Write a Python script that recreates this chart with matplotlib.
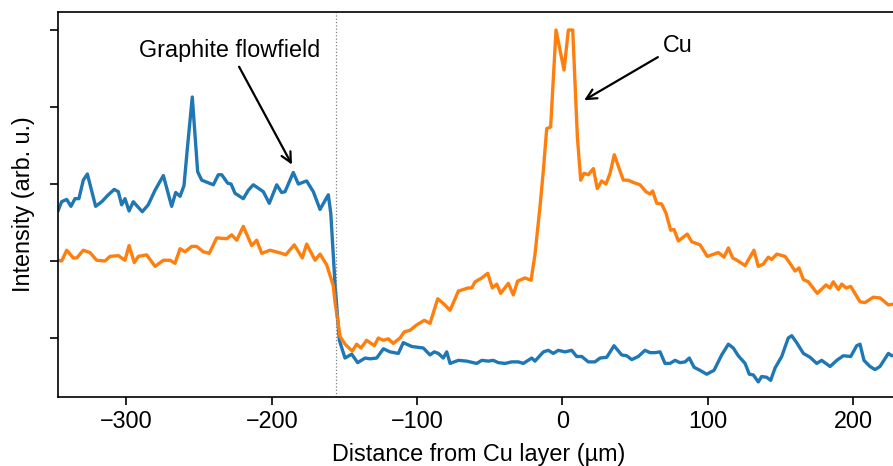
import matplotlib
matplotlib.use('Agg')
import matplotlib.pyplot as plt

plt.rcParams['font.family'] = ['Liberation Sans', 'DejaVu Sans']

# blue trace (graphite signal)
graphite_x = [-346.9, -344.6, -341.1, -338.2, -335.4, -332.7, -329.7, -326.9, -321.2, -317.0,
              -312.5, -308.4, -305.6, -303.3, -301.0, -298.2, -295.3, -289.1, -285.0, -280.3,
              -274.6, -268.9, -266.1, -263.1, -260.4, -258.1, -254.7, -251.0, -248.2, -240.2,
              -236.8, -234.4, -230.3, -228.0, -225.3, -219.6, -216.1, -212.7, -205.8, -201.7,
              -196.6, -193.2, -190.9, -185.2, -181.7, -176.0, -171.4, -166.8, -161.1, -159.4,
              -156.5, -153.5, -149.6, -145.0, -140.9, -135.8, -132.4, -127.8, -123.2, -118.6,
              -112.9, -109.5, -103.7, -95.7, -91.1, -88.2, -85.4, -82.0, -79.6, -77.3,
              -71.6, -65.9, -59.0, -55.5, -51.0, -47.6, -44.1, -39.5, -34.9, -30.3,
              -26.9, -21.1, -18.9, -13.1, -9.7, -6.3, -2.8, 1.8, 6.4, 9.8,
              13.3, 17.8, 22.4, 25.9, 30.5, 35.5, 40.8, 44.2, 47.7, 52.2,
              56.8, 60.3, 63.7, 67.2, 70.6, 74.0, 77.5, 80.9, 84.4, 87.3,
              90.6, 94.7, 99.3, 104.3, 109.6, 114.2, 117.6, 121.0, 125.7, 128.6,
              131.4, 134.8, 137.1, 140.6, 143.3, 146.3, 150.9, 155.4, 157.8, 161.2,
              165.8, 170.4, 175.0, 178.4, 184.2, 188.8, 193.3, 198.4, 202.5, 204.8,
              207.5, 211.7, 215.1, 218.5, 224.3, 226.6, 228.9]
graphite_y = [2.66, 2.77, 2.80, 2.71, 2.81, 2.81, 3.05, 3.13, 2.71, 2.77,
              2.86, 2.93, 2.90, 2.73, 2.81, 2.65, 2.77, 2.64, 2.73, 2.92,
              3.11, 2.71, 2.89, 2.84, 2.98, 3.46, 4.13, 3.16, 3.05, 2.99,
              3.12, 3.12, 3.01, 3.00, 2.88, 2.81, 2.92, 2.99, 2.90, 2.75,
              2.99, 2.89, 2.90, 3.15, 3.00, 3.04, 2.90, 2.67, 2.86, 2.62,
              1.71, 0.97, 0.74, 0.79, 0.68, 0.74, 0.73, 0.74, 0.86, 0.82,
              0.80, 0.94, 0.89, 0.87, 0.78, 0.82, 0.80, 0.74, 0.82, 0.67,
              0.71, 0.70, 0.67, 0.71, 0.70, 0.71, 0.68, 0.67, 0.69, 0.69,
              0.67, 0.74, 0.70, 0.82, 0.84, 0.80, 0.84, 0.82, 0.84, 0.76,
              0.76, 0.69, 0.69, 0.74, 0.75, 0.90, 0.78, 0.77, 0.72, 0.76,
              0.84, 0.81, 0.81, 0.82, 0.67, 0.67, 0.71, 0.68, 0.69, 0.74,
              0.62, 0.58, 0.53, 0.58, 0.78, 0.92, 0.87, 0.77, 0.67, 0.53,
              0.52, 0.43, 0.50, 0.49, 0.45, 0.61, 0.76, 1.00, 1.03, 0.94,
              0.80, 0.75, 0.67, 0.71, 0.63, 0.71, 0.77, 0.76, 0.90, 0.92,
              0.71, 0.63, 0.59, 0.63, 0.80, 0.77, 0.78]

# orange trace (Cu signal)
cu_x = [-346.9, -344.6, -341.1, -336.6, -334.2, -329.7, -325.1, -320.5, -314.8, -311.3,
        -305.6, -301.0, -298.2, -294.6, -291.8, -286.1, -280.3, -274.6, -270.0, -266.6,
        -263.1, -259.7, -255.1, -251.7, -247.1, -243.0, -237.9, -231.0, -227.6, -224.1,
        -219.6, -213.8, -210.4, -206.9, -201.2, -193.2, -190.4, -184.5, -179.0, -176.0,
        -170.2, -166.8, -162.2, -157.7, -156.5, -153.0, -149.6, -144.6, -141.6, -138.6,
        -134.7, -129.4, -126.7, -123.2, -119.8, -116.4, -111.8, -108.8, -104.9, -100.3,
        -95.0, -91.1, -85.8, -82.0, -77.3, -71.6, -64.8, -62.4, -60.1, -55.5,
        -51.4, -48.2, -45.2, -42.5, -37.2, -33.8, -30.8, -25.7, -21.6, -18.9,
        -15.4, -13.1, -10.8, -8.1, -4.4, 1.1, 4.1, 7.1, 10.3, 12.6,
        14.9, 17.8, 21.3, 24.0, 27.0, 30.0, 32.8, 35.7, 41.9, 45.3,
        48.8, 53.4, 57.5, 60.3, 62.1, 64.9, 68.3, 71.3, 74.5, 76.8,
        79.8, 85.9, 89.0, 94.7, 99.7, 107.3, 111.2, 114.2, 117.2, 121.0,
        125.7, 131.8, 134.8, 138.2, 141.7, 144.0, 147.5, 153.2, 156.6, 160.1,
        162.8, 165.8, 169.2, 175.4, 181.4, 184.1, 186.4, 189.9, 192.2, 195.2,
        198.4, 204.8, 208.2, 213.9, 218.6, 224.3, 227.5]
cu_y = [2.01, 2.00, 2.14, 2.04, 2.04, 2.14, 2.11, 2.01, 2.00, 2.06,
        2.07, 2.01, 2.20, 1.98, 2.06, 2.08, 1.93, 2.01, 2.01, 1.97,
        2.16, 2.12, 2.19, 2.19, 2.12, 2.10, 2.30, 2.29, 2.34, 2.27,
        2.45, 2.20, 2.27, 2.10, 2.14, 2.10, 2.08, 2.21, 2.04, 2.22,
        2.01, 2.09, 1.95, 1.68, 1.47, 1.02, 0.92, 0.83, 0.92, 0.87,
        0.97, 0.90, 1.00, 0.97, 0.99, 0.93, 1.00, 1.08, 1.10, 1.17,
        1.23, 1.19, 1.51, 1.45, 1.36, 1.61, 1.65, 1.65, 1.73, 1.78,
        1.84, 1.65, 1.70, 1.58, 1.71, 1.56, 1.74, 1.78, 1.75, 2.08,
        2.71, 3.18, 3.72, 3.74, 5.00, 4.48, 5.00, 5.00, 3.61, 3.05,
        3.14, 3.12, 3.20, 2.94, 3.04, 3.00, 3.14, 3.38, 3.05, 3.05,
        3.02, 2.99, 2.90, 2.87, 2.91, 2.75, 2.74, 2.62, 2.40, 2.41,
        2.26, 2.35, 2.25, 2.21, 2.06, 2.11, 2.05, 2.17, 2.04, 2.00,
        1.94, 2.14, 1.93, 1.96, 2.05, 2.02, 2.09, 2.06, 1.97, 1.87,
        1.91, 1.76, 1.73, 1.58, 1.69, 1.65, 1.73, 1.63, 1.70, 1.65,
        1.67, 1.47, 1.46, 1.53, 1.52, 1.43, 1.44]

interface_x = -155.8
y_ticks = [1, 2, 3, 4, 5]
fs = 16.8

fig = plt.figure(figsize=(8.93, 4.66), dpi=100)
ax = fig.add_axes([58 / 893, 69 / 466, 842 / 893, 385 / 466])

ax.plot(graphite_x, graphite_y, color='#1f77b4', lw=2.4)
ax.plot(cu_x, cu_y, color='#ff7f0e', lw=2.4)
ax.axvline(interface_x, color='grey', ls=':', lw=0.9)

ax.annotate('Graphite flowfield', xy=(-185.2, 3.22), xytext=(-228.7, 4.74),
            ha='center', va='center', fontsize=fs,
            arrowprops=dict(arrowstyle='->', color='black', lw=1.6, mutation_scale=18))
ax.annotate('Cu', xy=(13.3, 4.07), xytext=(79.5, 4.80),
            ha='center', va='center', fontsize=fs,
            arrowprops=dict(arrowstyle='->', color='black', lw=1.6, mutation_scale=18))

ax.set_xlim(-347.1, 232.3)
ax.set_ylim(0.234, 5.234)
ax.set_xticks([-300, -200, -100, 0, 100, 200])
ax.set_yticks(y_ticks)
ax.set_yticklabels([])
ax.tick_params(labelsize=fs, length=6, width=1.2)
for s in ax.spines.values():
    s.set_linewidth(1.2)
ax.set_xlabel('Distance from Cu layer (µm)', fontsize=fs, labelpad=7)
ax.set_ylabel('Intensity (arb. u.)', fontsize=fs, labelpad=7)

fig.savefig('out.png', dpi=100)
